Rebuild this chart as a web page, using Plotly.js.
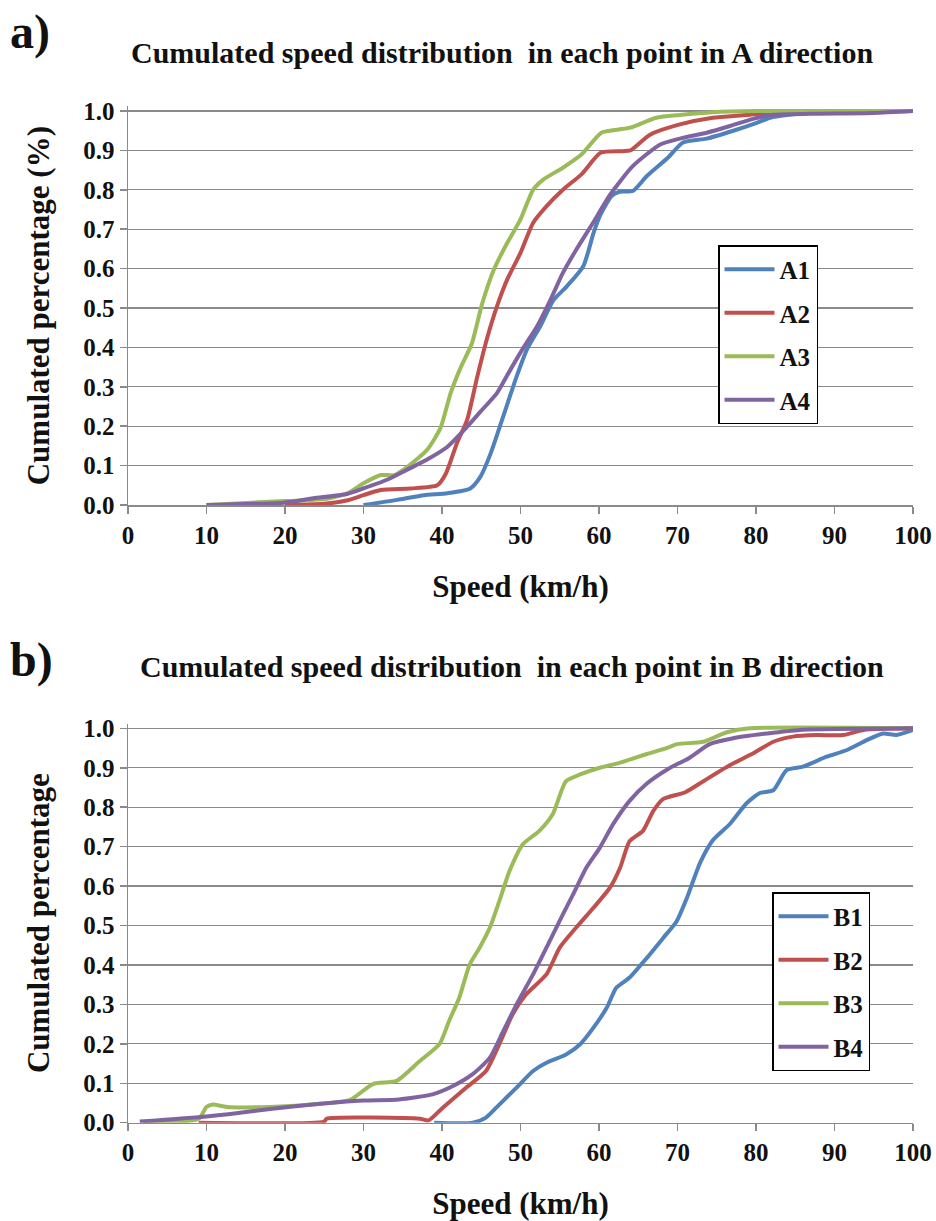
<!DOCTYPE html>
<html>
<head>
<meta charset="utf-8">
<script src="https://cdn.plot.ly/plotly-3.0.1.min.js"></script>
<style>html,body{margin:0;padding:0;background:#fff;}#chart{width:936px;height:1221px;}</style>
</head>
<body>
<div id="chart"></div>
<script>
// ---- Data ----
const xTicks = [0, 10, 20, 30, 40, 50, 60, 70, 80, 90, 100];
const yTicks = [0, 0.1, 0.2, 0.3, 0.4, 0.5, 0.6, 0.7, 0.8, 0.9, 1.0];

const A1_x = [30, 34.3, 37.7, 40.7, 43.6, 44.9, 46.2, 47.8, 49.5, 50.8, 52.5, 54.2, 55.9, 58, 59.3, 60.1, 61.6, 62.6, 64.3, 66.1, 68.7, 70.7, 73.7, 77.1, 80.1, 81.8, 83.9, 88, 100];
const A1_y = [0, 0.013, 0.025, 0.03, 0.042, 0.072, 0.131, 0.225, 0.326, 0.394, 0.453, 0.52, 0.555, 0.606, 0.69, 0.733, 0.784, 0.795, 0.797, 0.835, 0.88, 0.92, 0.93, 0.95, 0.97, 0.983, 0.99, 0.997, 1.0];

const A2_x = [20, 25, 28, 30, 32.2, 36, 39.4, 40.5, 41.9, 43.2, 44.5, 45.7, 47, 48.3, 50, 51.6, 53.3, 55.4, 57.8, 60.2, 63, 64, 66.5, 70.3, 74.5, 78.8, 83, 100];
const A2_y = [0, 0.003, 0.012, 0.025, 0.038, 0.042, 0.05, 0.08, 0.157, 0.216, 0.326, 0.42, 0.504, 0.572, 0.64, 0.716, 0.758, 0.80, 0.84, 0.894, 0.898, 0.9, 0.94, 0.966, 0.983, 0.99, 0.998, 1.0];

const A3_x = [10, 20, 25, 28, 30, 32.2, 33.9, 35.6, 38.1, 39.8, 41.1, 42.4, 43.8, 45.1, 46.6, 48.3, 50, 51.6, 52.9, 55.4, 57.8, 60.3, 62.5, 64, 67.3, 70.3, 74.5, 80, 100];
const A3_y = [0, 0.01, 0.015, 0.03, 0.055, 0.076, 0.076, 0.097, 0.14, 0.195, 0.284, 0.35, 0.41, 0.51, 0.597, 0.665, 0.725, 0.80, 0.826, 0.856, 0.89, 0.945, 0.953, 0.958, 0.983, 0.99, 0.997, 1.0, 1.0];

const A4_x = [10, 19.8, 23.6, 27.9, 30, 33, 35.5, 38.5, 40.7, 42.8, 44.9, 47, 48.7, 50.4, 52.1, 53.8, 55.4, 57.1, 59.2, 61.5, 64.3, 67.8, 70.3, 73.7, 76.7, 79.6, 81.8, 87, 95, 100];
const A4_y = [0, 0.006, 0.017, 0.028, 0.042, 0.064, 0.089, 0.12, 0.148, 0.19, 0.237, 0.284, 0.343, 0.40, 0.453, 0.52, 0.589, 0.648, 0.715, 0.79, 0.86, 0.915, 0.93, 0.945, 0.962, 0.98, 0.99, 0.993, 0.995, 1.0];

const B1_x = [39, 43.9, 45.6, 47.3, 49.5, 51.6, 53.3, 55.8, 57.6, 59.3, 61, 62.2, 63.9, 66.1, 68.2, 69.9, 71.2, 72.9, 74.5, 76.7, 78.8, 80.5, 82.2, 83.9, 86, 89, 91.6, 94.1, 96.2, 97.9, 100];
const B1_y = [0, 0, 0.013, 0.046, 0.089, 0.131, 0.152, 0.173, 0.199, 0.241, 0.292, 0.342, 0.368, 0.418, 0.469, 0.511, 0.57, 0.66, 0.716, 0.758, 0.81, 0.836, 0.843, 0.894, 0.903, 0.928, 0.945, 0.97, 0.987, 0.983, 0.996];

const B2_x = [9, 25, 25.3, 37.2, 38.3, 40.1, 43.1, 45.6, 47.3, 49, 50.7, 53.3, 55, 57.1, 59.3, 61.4, 62.7, 63.9, 65.6, 66.9, 68.2, 71, 73.3, 76.7, 79.6, 82.2, 84.7, 87.7, 91.1, 93.7, 100];
const B2_y = [0, 0.003, 0.01, 0.01, 0.006, 0.038, 0.089, 0.131, 0.199, 0.275, 0.325, 0.376, 0.444, 0.495, 0.545, 0.596, 0.647, 0.714, 0.74, 0.79, 0.821, 0.838, 0.866, 0.907, 0.936, 0.966, 0.979, 0.983, 0.983, 0.996, 1.0];

const B3_x = [2, 9, 10, 10.8, 12.6, 18.1, 24.5, 28.3, 31.2, 34.2, 37.2, 39.7, 40.9, 42.2, 43.5, 44.8, 46.1, 47.3, 48.6, 50.3, 52.4, 54.1, 55.8, 57.6, 60.1, 62.7, 66.1, 68.6, 70, 73.3, 76.3, 79.2, 100];
const B3_y = [0, 0.01, 0.04, 0.046, 0.04, 0.04, 0.048, 0.058, 0.098, 0.106, 0.157, 0.2, 0.258, 0.317, 0.40, 0.444, 0.495, 0.562, 0.638, 0.706, 0.74, 0.782, 0.866, 0.883, 0.90, 0.913, 0.935, 0.95, 0.96, 0.966, 0.99, 1.0, 1.0];

const B4_x = [1.5, 10, 13.8, 18.1, 24.5, 30, 34.5, 38.8, 41.4, 43.9, 46.1, 47.8, 49.5, 51.6, 53.7, 55.4, 56.7, 58.4, 60.1, 61.8, 63.9, 66.1, 68.8, 71.5, 74.1, 77.1, 81.4, 85.6, 100];
const B4_y = [0.003, 0.016, 0.024, 0.035, 0.048, 0.056, 0.059, 0.072, 0.093, 0.123, 0.165, 0.232, 0.30, 0.376, 0.46, 0.528, 0.579, 0.647, 0.697, 0.757, 0.816, 0.86, 0.897, 0.925, 0.96, 0.975, 0.987, 0.996, 1.0];

const namesA = ["A1", "A2", "A3", "A4"];
const namesB = ["B1", "B2", "B3", "B4"];
const colors = ["#4F81BD", "#C0504D", "#9BBB59", "#8064A2"];

// ---- Styling ----
const FONT = "Liberation Serif";
const gridC = "#8a8a8a";

function mk(x, y, name, color, xa, ya, leg, grp) {
  return {
    type: "scatter", mode: "lines", x: x, y: y, name: name,
    xaxis: xa, yaxis: ya, legend: leg, legendgroup: grp,
    line: {color: color, width: 4, shape: "spline", smoothing: 0.6},
    hoverinfo: "skip"
  };
}

const data = [
  mk(A1_x, A1_y, namesA[0], colors[0], "x", "y", "legend", "a1"),
  mk(A2_x, A2_y, namesA[1], colors[1], "x", "y", "legend", "a2"),
  mk(A3_x, A3_y, namesA[2], colors[2], "x", "y", "legend", "a3"),
  mk(A4_x, A4_y, namesA[3], colors[3], "x", "y", "legend", "a4"),
  mk(B1_x, B1_y, namesB[0], colors[0], "x2", "y2", "legend2", "b1"),
  mk(B2_x, B2_y, namesB[1], colors[1], "x2", "y2", "legend2", "b2"),
  mk(B3_x, B3_y, namesB[2], colors[2], "x2", "y2", "legend2", "b3"),
  mk(B4_x, B4_y, namesB[3], colors[3], "x2", "y2", "legend2", "b4")
];

const tickFont = {family: FONT, size: 25, color: "#111", weight: "bold"};
const axTitleFont = {family: FONT, size: 31, color: "#111", weight: "bold"};

function xAxis(anchor, dom) {
  return {
    anchor: anchor, domain: dom, range: [0, 100], tickvals: xTicks,
    showgrid: false, zeroline: false, showline: true, linecolor: gridC, linewidth: 1.5,
    ticks: "outside", ticklen: 7, tickcolor: gridC, tickwidth: 1.5,
    tickfont: tickFont, fixedrange: true,
    title: {text: "Speed (km/h)", font: axTitleFont, standoff: 28}
  };
}
function yAxis(anchor, dom, title) {
  return {
    anchor: anchor, domain: dom, range: [0, 1.012], tickvals: yTicks, tickformat: ".1f",
    showgrid: true, gridcolor: gridC, gridwidth: 1.3, zeroline: false,
    showline: true, linecolor: gridC, linewidth: 1.5,
    ticks: "outside", ticklen: 7, tickcolor: gridC, tickwidth: 1.5,
    tickfont: tickFont, fixedrange: true,
    title: {text: title, font: axTitleFont, standoff: 24}
  };
}

const legendStyle = (x, y) => ({
  x: x, y: y, xanchor: "left", yanchor: "top", xref: "paper", yref: "paper",
  bgcolor: "#ffffff", bordercolor: "#000000", borderwidth: 1.5,
  font: {family: FONT, size: 25, color: "#111", weight: "bold"},
  tracegroupgap: 8, itemwidth: 50
});

const layout = {
  width: 936, height: 1221,
  margin: {l: 0, r: 0, t: 0, b: 0},
  paper_bgcolor: "#ffffff", plot_bgcolor: "#ffffff",
  showlegend: true,
  xaxis: xAxis("y", [128/936, 913/936]),
  yaxis: yAxis("x", [1 - 505/1221, 1 - 106.3/1221], "Cumulated percentage (%)"),
  xaxis2: xAxis("y2", [128/936, 913/936]),
  yaxis2: yAxis("x2", [1 - 1122.7/1221, 1 - 723.6/1221], "Cumulated percentage"),
  legend: legendStyle(718/936, 1 - 245/1221),
  legend2: legendStyle(772/936, 1 - 892/1221),
  annotations: [
    {text: "a)", x: 8/936, y: 1 - 32/1221, xref: "paper", yref: "paper", xanchor: "left", yanchor: "middle", showarrow: false,
     font: {family: FONT, size: 48, color: "#111", weight: "bold"}},
    {text: "Cumulated speed distribution  in each point in A direction", x: 502/936, y: 1 - 52/1221, xref: "paper", yref: "paper",
     xanchor: "center", yanchor: "middle", showarrow: false, font: {family: FONT, size: 30, color: "#111", weight: "bold"}},
    {text: "b)", x: 8/936, y: 1 - 660/1221, xref: "paper", yref: "paper", xanchor: "left", yanchor: "middle", showarrow: false,
     font: {family: FONT, size: 48, color: "#111", weight: "bold"}},
    {text: "Cumulated speed distribution  in each point in B direction", x: 512/936, y: 1 - 666/1221, xref: "paper", yref: "paper",
     xanchor: "center", yanchor: "middle", showarrow: false, font: {family: FONT, size: 30, color: "#111", weight: "bold"}}
  ]
};

Plotly.newPlot("chart", data, layout, {displayModeBar: false, staticPlot: true});
</script>
</body>
</html>
